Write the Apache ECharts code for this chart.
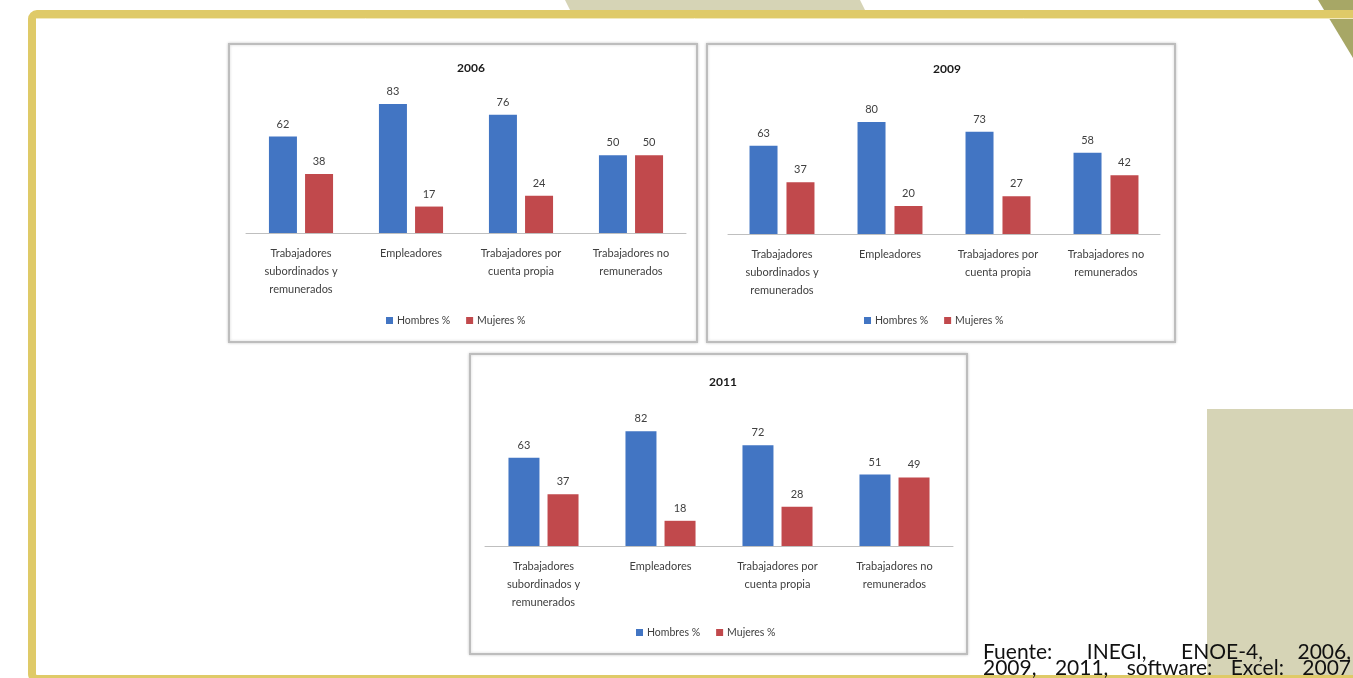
<!DOCTYPE html>
<html>
<head>
<meta charset="utf-8">
<script src="https://cdn.jsdelivr.net/npm/echarts@6/dist/echarts.min.js"></script>
<style>
  html, body { margin: 0; padding: 0; background: #ffffff; }
  #chart { width: 1353px; height: 678px; }
</style>
</head>
<body>
<div id="chart"></div>
<script>
// Distribución por sexo según posición en la ocupación (porcentajes)
const categories = [
  'Trabajadores\nsubordinados y\nremunerados',
  'Empleadores',
  'Trabajadores por\ncuenta propia',
  'Trabajadores no\nremunerados'
];
const years = ['2006', '2009', '2011'];
const seriesNames = ['Hombres %', 'Mujeres %'];
const hombres2006 = [62, 83, 76, 50];
const mujeres2006 = [38, 17, 24, 50];
const hombres2009 = [63, 80, 73, 58];
const mujeres2009 = [37, 20, 27, 42];
const hombres2011 = [63, 82, 72, 51];
const mujeres2011 = [37, 18, 28, 49];
const axisMax = [90, 100, 100];
const sourceLine1 = ['Fuente:', 'INEGI,', 'ENOE-4,', '2006,'];
const sourceLine2 = ['2009,', '2011,', 'software:', 'Excel:', '2007'];

const hombres = [hombres2006, hombres2009, hombres2011];
const mujeres = [mujeres2006, mujeres2009, mujeres2011];

// Panel geometry (pixels)
const panels = [
  { box: [229, 44, 468, 298], grid: [246, 93, 440, 140], titleX: 466, titleY: 57, legend: [386, 315], barWidth: 28, barGap: '29%' },
  { box: [707, 44, 468, 298], grid: [728, 94, 432, 140], titleX: 942, titleY: 58, legend: [864, 315], barWidth: 28, barGap: '32%' },
  { box: [470, 354, 497, 300], grid: [485, 406, 468, 140], titleX: 718, titleY: 371, legend: [636, 627], barWidth: 31, barGap: '26%' }
];

const BLUE = '#4275c3';
const RED = '#c1494c';
const TEXT = '#404040';
const FONT = 'Lato, "Open Sans", sans-serif';

const chart = echarts.init(document.getElementById('chart'), null, { renderer: 'canvas' });

const grid = [], xAxis = [], yAxis = [], series = [], title = [], legend = [];

panels.forEach((p, i) => {
  grid.push({ left: p.grid[0], top: p.grid[1], width: p.grid[2], height: p.grid[3], containLabel: false });
  xAxis.push({
    type: 'category', gridIndex: i, data: categories,
    axisTick: { show: false },
    axisLine: { lineStyle: { color: '#bfbfbf', width: 1 } },
    axisLabel: { interval: 0, color: TEXT, fontSize: 11, lineHeight: 18, margin: 11, fontFamily: FONT }
  });
  yAxis.push({
    type: 'value', gridIndex: i, min: 0, max: axisMax[i], show: false,
    splitLine: { show: false }
  });
  [hombres[i], mujeres[i]].forEach((vals, k) => {
    series.push({
      type: 'bar', name: seriesNames[k], xAxisIndex: i, yAxisIndex: i,
      data: vals, barWidth: p.barWidth, barGap: p.barGap,
      itemStyle: { color: k === 0 ? BLUE : RED },
      label: { show: true, position: 'top', distance: 7, color: TEXT, fontSize: 11, fontFamily: FONT },
      emphasis: { disabled: true },
      animation: false
    });
  });
  title.push({
    text: years[i], left: p.titleX, top: p.titleY, textAlign: 'center',
    textStyle: { fontSize: 12, fontWeight: 'bold', color: '#1a1a1a', fontFamily: FONT }
  });
  legend.push({
    data: seriesNames, left: p.legend[0], top: p.legend[1], padding: 0,
    itemWidth: 7, itemHeight: 7, itemGap: 16, icon: 'rect',
    textStyle: { color: TEXT, fontSize: 10.5, fontFamily: FONT, padding: [0, 0, 0, -1] },
    selectedMode: false
  });
});

// Slide decorations and panel frames
const graphics = [
  { type: 'polygon', z: -10, shape: { points: [[565, 0], [860, 0], [867, 14], [572, 14]] }, style: { fill: '#d6d4b6' } },
  { type: 'polygon', z: -10, shape: { points: [[1318, 0], [1353, 0], [1353, 58]] }, style: { fill: '#a7a766' } },
  { type: 'rect', z: -10, shape: { x: 1207, y: 409, width: 150, height: 270 }, style: { fill: '#d6d4b6' } },
  { type: 'rect', z: -9, shape: { x: 32, y: 14, width: 1340, height: 665, r: 5 }, style: { fill: 'none', stroke: '#dfca68', lineWidth: 8 } },
  { type: 'line', z: -9, shape: { x1: 36, y1: 18.5, x2: 1353, y2: 18.5 }, style: { stroke: '#f2e9bd', lineWidth: 1 } }
];
panels.forEach(p => {
  graphics.push({
    type: 'rect', z: -8,
    shape: { x: p.box[0], y: p.box[1], width: p.box[2], height: p.box[3] },
    style: { fill: '#ffffff', stroke: '#bdbdbd', lineWidth: 2, shadowBlur: 3, shadowColor: 'rgba(0,0,0,0.18)' }
  });
});

// Source note, justified between a left and right margin
const srcFont = '21px Lato, "Open Sans", sans-serif';
const measureCtx = document.createElement('canvas').getContext('2d');
measureCtx.font = srcFont;
function justify(words, x0, x1, top) {
  const widths = words.map(w => measureCtx.measureText(w).width);
  const total = widths.reduce((a, b) => a + b, 0);
  const gap = (x1 - x0 - total) / (words.length - 1);
  let x = x0;
  words.forEach((w, j) => {
    graphics.push({ type: 'text', z: 5, left: x, top: top, style: { text: w, font: srcFont, fill: '#111111' } });
    x += widths[j] + gap;
  });
}
justify(sourceLine1, 983, 1351, 642);
justify(sourceLine2, 983, 1351, 658);

chart.setOption({
  animation: false,
  backgroundColor: '#ffffff',
  title, legend, grid, xAxis, yAxis, series,
  graphic: graphics
});
</script>
</body>
</html>
